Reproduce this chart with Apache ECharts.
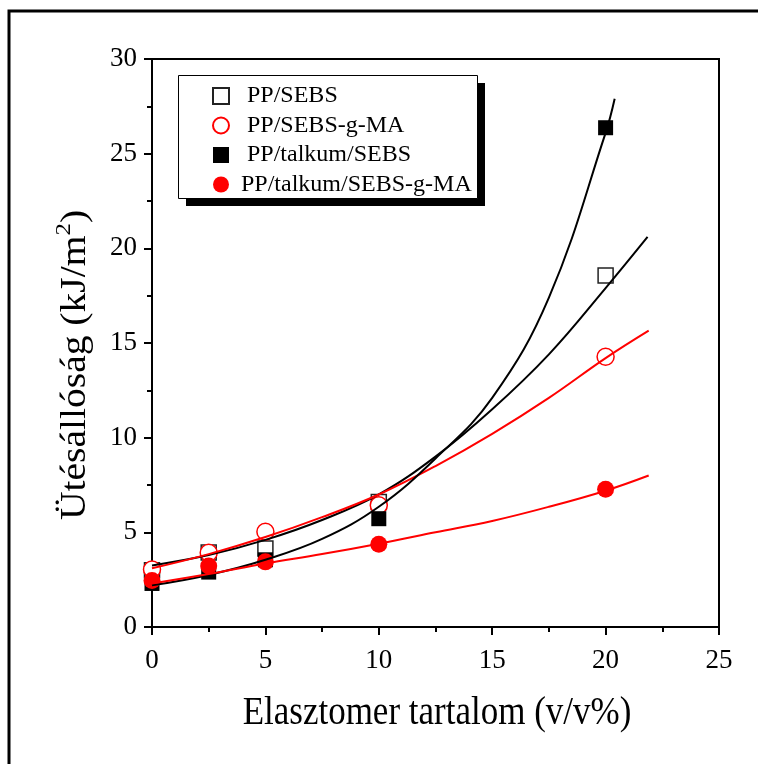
<!DOCTYPE html>
<html>
<head>
<meta charset="utf-8">
<style>html,body{margin:0;padding:0;background:#fff;}#c{width:758px;height:764px;}</style>
<script src="https://cdn.jsdelivr.net/npm/echarts@6/dist/echarts.min.js"></script>
</head>
<body>
<div id="c"></div>
<script>
// ---- data ----
var xValues = [0, 2.5, 5, 10, 20];
var ppSebs = [3.0, 3.93, 4.15, 6.6, 18.56];
var ppSebsGMA = [3.04, 3.92, 5.03, 6.43, 14.27];
var ppTalkSebs = [2.3, 2.9, 3.55, 5.72, 26.37];
var ppTalkSebsGMA = [2.45, 3.22, 3.44, 4.37, 7.27];

// fitted curves
var fitPPSebsX = [0, 2.5, 5, 7.5, 10, 12.5, 15, 17.5, 20, 21.85];
var fitPPSebsY = [3.25, 3.8, 4.6, 5.65, 7.0, 9.0, 11.5, 14.4, 17.9, 20.6];
var fitPPSebsGMAX = [0, 2.5, 5, 7.5, 10, 12.5, 15, 17.5, 20, 21.9];
var fitPPSebsGMAY = [3.1, 3.85, 4.75, 5.8, 7.0, 8.5, 10.2, 12.1, 14.2, 15.65];
var fitTalkSebsX = [0, 2.5, 5, 7.5, 10, 12.5, 15, 17.5, 20, 20.4];
var fitTalkSebsY = [2.2, 2.75, 3.55, 4.65, 6.35, 8.9, 12.1, 17.4, 26.1, 27.9];
var fitTalkSebsGMAX = [0, 2.5, 5, 7.5, 10, 12.5, 15, 17.5, 20, 21.9];
var fitTalkSebsGMAY = [2.3, 2.8, 3.35, 3.85, 4.4, 5.0, 5.6, 6.35, 7.2, 8.0];

var seriesNames = ['PP/SEBS', 'PP/SEBS-g-MA', 'PP/talkum/SEBS', 'PP/talkum/SEBS-g-MA'];
var xTicks = [0, 5, 10, 15, 20, 25];
var yTicks = [0, 5, 10, 15, 20, 25, 30];
var xTitle = 'Elasztomer tartalom (v/v%)';
var yTitleMain = 'Ütésállóság (kJ/m';
var yTitleSup = '2';

function pairs(xs, ys) { return xs.map(function (x, i) { return [x, ys[i]]; }); }

var FONT = "'Liberation Serif', 'Times New Roman', serif";
var chart = echarts.init(document.getElementById('c'), null, {renderer: 'canvas'});

function fitLine(xs, ys, color) {
  return {
    type: 'line', data: pairs(xs, ys), smooth: 0.4, showSymbol: false, symbol: 'none',
    lineStyle: {color: color, width: 2}, z: 6, silent: true, legendHoverLink: false
  };
}

var option = {
  animation: false,
  backgroundColor: '#fff',
  grid: {left: 152, right: 39, top: 59, bottom: 137, show: true, borderColor: '#000', borderWidth: 2, backgroundColor: 'transparent'},
  xAxis: {
    type: 'value', min: xTicks[0], max: xTicks[xTicks.length - 1], interval: 5,
    axisLine: {show: true, lineStyle: {color: '#000', width: 2}},
    axisTick: {show: true, inside: false, length: 8, lineStyle: {color: '#000', width: 2}},
    minorTick: {show: true, splitNumber: 2, length: 5, lineStyle: {color: '#000', width: 2}},
    splitLine: {show: false},
    axisLabel: {color: '#000', fontFamily: FONT, fontSize: 27, margin: 20}
  },
  yAxis: {
    type: 'value', min: yTicks[0], max: yTicks[yTicks.length - 1], interval: 5,
    axisLine: {show: true, lineStyle: {color: '#000', width: 2}},
    axisTick: {show: true, inside: false, length: 8, lineStyle: {color: '#000', width: 2}},
    minorTick: {show: true, splitNumber: 2, length: 5, lineStyle: {color: '#000', width: 2}},
    splitLine: {show: false},
    axisLabel: {color: '#000', fontFamily: FONT, fontSize: 27, margin: 15}
  },
  legend: {
    orient: 'vertical', left: 207, top: 79, z: 20,
    itemWidth: 16, itemHeight: 16, itemGap: 5.5,
    selectedMode: false,
    textStyle: {color: '#000', fontFamily: FONT, fontSize: 24, lineHeight: 24, padding: [0, 0, 0, 13]},
    data: [
      {name: seriesNames[0]},
      {name: seriesNames[1]},
      {name: seriesNames[2]},
      {name: seriesNames[3], textStyle: {color: '#000', fontFamily: FONT, fontSize: 24, lineHeight: 24, padding: [0, 0, 0, 7]}}
    ]
  },
  graphic: [
    {type: 'rect', z: 8, silent: true, shape: {x: 9, y: 11, width: 900, height: 900}, style: {fill: 'none', stroke: '#000', lineWidth: 3}},
    {type: 'rect', z: 9, silent: true, shape: {x: 186, y: 83, width: 299, height: 123}, style: {fill: '#000'}},
    {type: 'rect', z: 10, silent: true, shape: {x: 178.5, y: 75.5, width: 299, height: 123}, style: {fill: '#fff', stroke: '#000', lineWidth: 1}},
    {
      type: 'text', z: 10, silent: true, x: 437, y: 714, scaleY: 1.13,
      style: {text: xTitle, font: '35px ' + FONT, fill: '#000', textAlign: 'center', textVerticalAlign: 'middle'}
    },
    {
      type: 'text', z: 10, silent: true, x: 73, y: 365, rotation: Math.PI / 2, scaleX: 1.13,
      style: {
        text: '{a|' + yTitleMain + '}{s|' + yTitleSup + '}{a|)}',
        textAlign: 'center', textVerticalAlign: 'middle',
        rich: {
          a: {fontFamily: FONT, fontSize: 35, fill: '#000', color: '#000', lineHeight: 40, verticalAlign: 'bottom'},
          s: {fontFamily: FONT, fontSize: 22, fill: '#000', color: '#000', lineHeight: 40, verticalAlign: 'top'}
        }
      }
    }
  ],
  series: [
    {name: seriesNames[0], type: 'scatter', data: pairs(xValues, ppSebs), symbol: 'rect', symbolSize: 15, z: 3,
     itemStyle: {color: '#fff', borderColor: '#222', borderWidth: 1.5, opacity: 1}},
    {name: seriesNames[1], type: 'scatter', data: pairs(xValues, ppSebsGMA), symbol: 'circle', symbolSize: 17, z: 3,
     itemStyle: {color: '#fff', borderColor: '#ff0000', borderWidth: 1.5, opacity: 1}},
    {name: seriesNames[2], type: 'scatter', data: pairs(xValues, ppTalkSebs), symbol: 'rect', symbolSize: 15, z: 4,
     itemStyle: {color: '#000', borderColor: '#000', borderWidth: 0, opacity: 1}},
    {name: seriesNames[3], type: 'scatter', data: pairs(xValues, ppTalkSebsGMA), symbol: 'circle', symbolSize: 17, z: 4,
     itemStyle: {color: '#ff0000', borderColor: '#ff0000', borderWidth: 0, opacity: 1}},
    fitLine(fitPPSebsX, fitPPSebsY, '#000'),
    fitLine(fitPPSebsGMAX, fitPPSebsGMAY, '#ff0000'),
    fitLine(fitTalkSebsX, fitTalkSebsY, '#000'),
    fitLine(fitTalkSebsGMAX, fitTalkSebsGMAY, '#ff0000')
  ]
};
chart.setOption(option);
</script>
</body>
</html>
